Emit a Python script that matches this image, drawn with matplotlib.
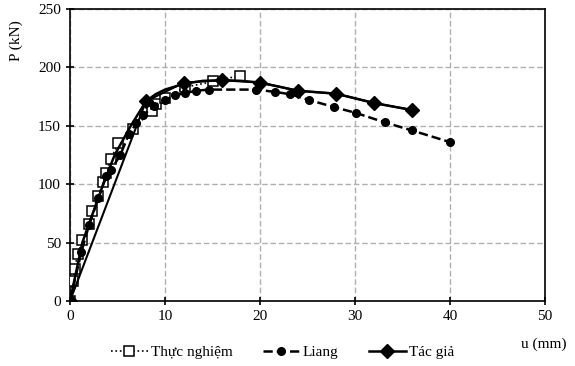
import matplotlib.pyplot as plt

plt.rcParams.update(
    {
        "font.family": ["Liberation Serif", "DejaVu Serif"],
        "font.size": 11,
    }
)

# Thực nghiệm (experiment)
exp_u = [0, 0.3, 0.5, 0.8, 1.3, 2.0, 2.3, 3.0, 3.5, 3.8, 4.3, 5.1, 6.6, 8.6, 9.1, 10.0, 12.1, 15.1, 17.9]
exp_p = [0, 17, 27, 40, 52, 66, 77, 90, 102, 110, 122, 135, 147, 163, 169, 174, 183, 188, 193]

# Liang
liang_u = [0, 1.2, 2.0, 3.0, 3.8, 4.3, 5.3, 6.2, 7.0, 7.7, 8.8, 10.0, 11.0, 12.1, 13.3, 14.6,
           19.6, 21.6, 23.2, 25.2, 27.8, 30.1, 33.1, 36.0, 40.0]
liang_p = [0, 42, 65, 88, 107, 112, 125, 143, 152, 159, 167, 172, 176, 178, 180, 181,
           181, 179, 177, 172, 166, 161, 153, 146, 136]

# Tác giả (author) - curve and marker points
tg_line_u = [0, 1.3, 2.4, 3.5, 4.7, 6.4, 8.0, 9.0, 10.0, 12.0, 14.0, 16.0, 18.0, 20.0, 24.0, 28.0, 32.0, 36.0]
tg_line_p = [0, 50, 75, 100, 125, 150, 171, 177, 181, 186, 188.5, 189, 188.5, 187, 180, 177.5, 169.5, 163.5]
tg_mark_u = [0, 8.0, 12.0, 16.0, 20.0, 24.0, 28.0, 32.0, 36.0]
tg_mark_p = [0, 171, 187, 189, 187, 180, 177.5, 169.5, 163.5]

fig = plt.figure(figsize=(5.75, 3.66), dpi=100)
ax = fig.add_axes([0.1217, 0.1776, 0.8263, 0.7978])

ax.plot(exp_u, exp_p, ":", color="black", lw=1.2, marker="s", ms=6.5,
        mfc="white", mec="black", mew=1.1, label="Thực nghiệm", zorder=3)
ax.plot(liang_u, liang_p, "--", color="black", lw=1.8, marker="o", ms=5.5,
        label="Liang", zorder=4)
ax.plot(tg_line_u, tg_line_p, "-", color="black", lw=1.8, zorder=5)
ax.plot(tg_mark_u, tg_mark_p, "none", color="black", marker="D", ms=7, zorder=6)
# legend proxy for Tác giả
ax.plot([], [], "-", color="black", lw=1.8, marker="D", ms=7, label="Tác giả")

ax.set_xlim(0, 50)
ax.set_ylim(0, 250)
ax.set_xticks(range(0, 51, 10))
ax.set_yticks(range(0, 251, 50))
ax.grid(True, color="#b0b0b0", linestyle=(0, (4, 2)), lw=1.0)
ax.set_axisbelow(True)
ax.tick_params(direction="inout", length=6, width=1.2, colors="black", labelsize=11)
for s in ax.spines.values():
    s.set_linewidth(1.2)
    s.set_color("black")

fig.text(0.028, 0.945, "P (kN)", rotation=90, ha="center", va="top", fontsize=11)
fig.text(0.985, 0.04, "u (mm)", ha="right", va="bottom", fontsize=11)

ax.legend(loc="upper center", bbox_to_anchor=(0.447, -0.105), ncol=3, frameon=False,
          numpoints=1, handlelength=2.4, columnspacing=2.0, handletextpad=0.2,
          fontsize=11)

fig.savefig("out.png", dpi=100)
